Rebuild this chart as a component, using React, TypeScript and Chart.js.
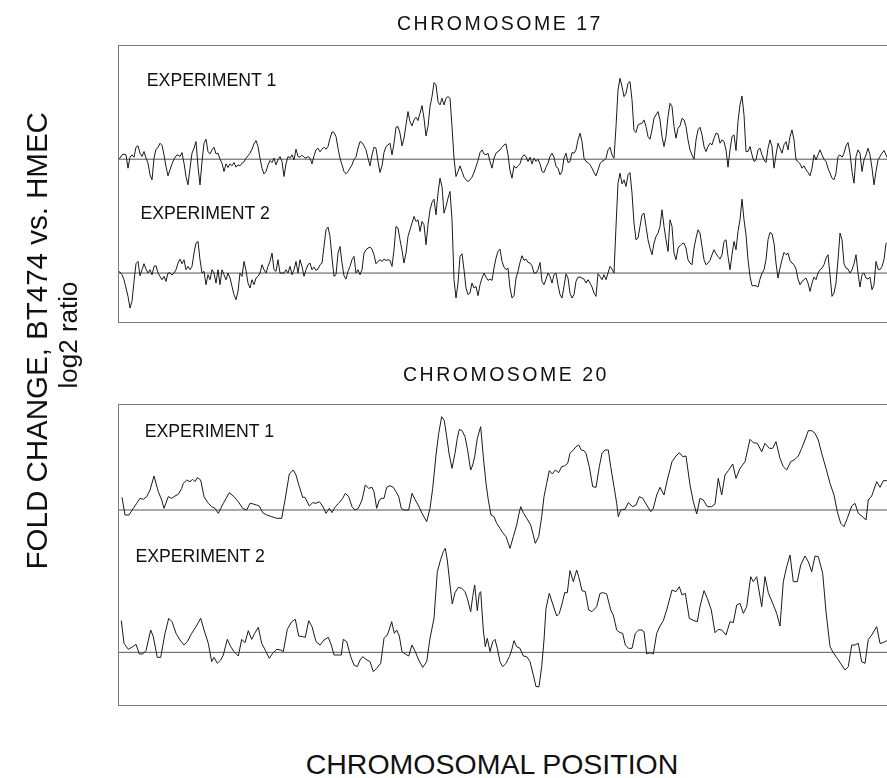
import React, { useEffect, useRef } from "react";
import { Chart, registerables } from "chart.js";

Chart.register(...registerables);

// ---------- text ----------
const panelTitles = ["CHROMOSOME 17", "CHROMOSOME 20"];
const expLabels = ["EXPERIMENT 1", "EXPERIMENT 2"];
const yTitle = "FOLD CHANGE, BT474 vs. HMEC";
const yUnit = "log2 ratio";
const xTitle = "CHROMOSOMAL POSITION";

// ---------- data (log2 ratio, probe order along the chromosome) ----------
// Chromosome 17: evenly spaced probes (index = position)
const chr17Exp1 = [
  0.03, 0.03, 0.13, 0.15, 0.13, -0.27, 0.06, 0.13, 0.06, 0.36,
  0.40, 0.18, 0.08, 0.23, 0.03, -0.12, -0.47, -0.62, 0.03, 0.30,
  0.35, 0.48, 0.42, 0.13, -0.22, -0.50, -0.32, -0.14, 0.00, 0.10,
  0.13, 0.08, 0.20, -0.12, -0.52, -0.77, -0.27, 0.18, 0.33, 0.53,
  -0.22, -0.77, -0.07, 0.48, 0.60, 0.23, 0.16, 0.28, 0.36, 0.16,
  0.18, 0.00, -0.12, -0.37, -0.14, -0.25, -0.14, -0.20, -0.10, -0.24,
  -0.17, -0.20, -0.12, -0.08, 0.03, 0.10, 0.18, 0.30, 0.46, 0.56,
  0.38, 0.03, -0.27, -0.44, -0.37, -0.17, -0.04, -0.10, 0.03, -0.17,
  -0.02, 0.08, -0.07, -0.52, -0.14, 0.08, 0.03, 0.13, -0.02, 0.30,
  0.08, 0.06, 0.12, 0.06, 0.03, 0.08, 0.03, -0.14, 0.10, 0.28,
  0.33, 0.22, 0.30, 0.36, 0.30, 0.38, 0.63, 0.82, 0.80, 0.68,
  0.33, 0.03, -0.17, -0.37, -0.44, -0.37, -0.27, -0.17, 0.00, 0.06,
  0.33, 0.53, 0.50, 0.40, 0.28, 0.03, -0.20, 0.13, 0.36, 0.33,
  -0.07, -0.40, -0.20, 0.20, 0.38, 0.43, 0.48, 0.13, 0.48, 0.96,
  0.98, 0.78, 0.40, 0.63, 1.03, 1.43, 1.13, 1.00, 1.18, 1.26,
  1.16, 1.38, 1.61, 1.23, 0.70, 0.98, 1.58, 1.88, 2.30, 2.23,
  1.73, 1.63, 1.83, 1.63, 1.83, 1.88, 1.83, 0.98, 0.03, -0.52,
  -0.37, -0.20, -0.37, -0.54, -0.62, -0.67, -0.62, -0.54, -0.40, -0.22,
  -0.04, 0.20, 0.28, 0.16, 0.13, 0.18, -0.07, -0.27, 0.03, 0.18,
  0.23, 0.28, 0.36, 0.43, 0.46, 0.13, -0.34, -0.57, -0.20, -0.27,
  -0.20, -0.14, 0.06, 0.13, 0.08, -0.07, 0.06, -0.14, 0.03, -0.07,
  0.00, -0.14, -0.37, -0.40, -0.24, -0.12, 0.08, 0.18, 0.06, -0.22,
  -0.27, -0.47, -0.37, 0.03, 0.18, -0.10, -0.07, 0.20, 0.18, 0.28,
  0.58, 0.78, 0.53, 0.03, -0.07, -0.10, -0.17, -0.27, -0.40, -0.50,
  -0.32, -0.14, -0.06, -0.04, 0.03, 0.28, 0.36, 0.13, 0.03, 0.98,
  2.08, 2.43, 2.18, 1.88, 1.98, 2.28, 2.33, 1.78, 0.86, 0.80,
  1.03, 1.06, 1.08, 1.18, 0.98, 0.68, 0.60, 0.88, 1.23, 1.33,
  1.43, 1.18, 0.68, 0.38, 0.68, 1.28, 1.68, 1.58, 0.98, 0.63,
  0.93, 1.00, 1.23, 1.18, 0.98, 0.58, 0.28, 0.13, 0.00, 0.58,
  0.88, 0.96, 0.73, 0.38, 0.23, 0.38, 0.48, 0.43, 0.63, 0.78,
  0.76, 0.48, 0.58, 0.53, 0.28, -0.24, 0.28, 0.68, 0.73, 0.26,
  1.13, 1.63, 1.90, 1.33, 0.23, 0.23, 0.38, 0.13, -0.07, -0.02,
  0.28, 0.33, 0.13, -0.02, -0.10, 0.33, 0.58, 0.38, -0.27, 0.13,
  0.48, 0.33, 0.18, 0.43, 0.53, 0.28, 0.68, 0.88, 0.58, -0.02,
  -0.07, -0.14, -0.27, -0.20, -0.32, -0.40, -0.50, -0.27, 0.13, -0.02,
  0.13, 0.28, 0.13, 0.00, -0.07, -0.27, -0.42, -0.57, -0.62, -0.42,
  0.08, 0.13, 0.06, 0.18, 0.40, 0.50, 0.18, -0.37, -0.72, 0.08,
  0.28, 0.18, -0.37, -0.02, 0.13, 0.33, 0.13, -0.27, -0.77, -0.37,
  -0.02, 0.08, 0.18, 0.26, 0.13, 0.00, -0.05, 0.05,
];

const chr17Exp2 = [
  0.05, 0.03, -0.05, -0.20, -0.45, -0.70, -1.05, -0.85, -0.25, 0.28,
  0.35, -0.08, 0.10, 0.28, 0.12, 0.00, 0.10, -0.05, 0.20, 0.22,
  0.00, -0.10, -0.20, -0.10, -0.25, 0.00, 0.00, -0.06, 0.00, 0.10,
  0.30, 0.42, 0.28, 0.40, 0.10, 0.20, 0.10, 0.20, 0.60, 0.90,
  0.95, 0.40, 0.00, 0.05, -0.35, -0.05, -0.20, 0.10, 0.00, -0.30,
  0.10, -0.35, 0.10, -0.05, -0.20, 0.00, -0.15, -0.40, -0.65, -0.80,
  -0.55, 0.00, -0.10, 0.35, 0.08, -0.30, -0.45, -0.20, -0.35, -0.15,
  -0.10, 0.00, 0.25, 0.10, 0.00, 0.20, 0.35, 0.60, 0.10, 0.05,
  0.40, 0.00, 0.00, 0.00, 0.10, 0.00, 0.20, -0.05, 0.10, 0.35,
  0.00, 0.40, 0.20, -0.10, 0.10, 0.25, 0.30, 0.10, 0.18, 0.08,
  0.12, 0.25, 0.30, 0.80, 1.30, 1.38, 1.10, 0.45, -0.10, -0.05,
  0.60, 0.80, 0.30, -0.08, -0.18, 0.05, 0.20, 0.40, 0.50, 0.00,
  0.10, -0.05, 0.10, 0.60, 0.70, 0.75, 0.78, 0.72, 0.55, 0.28,
  0.35, 0.40, 0.35, 0.42, 0.38, 0.40, 0.38, 0.20, 0.70, 1.40,
  1.35, 1.00, 0.68, 0.30, 0.60, 1.10, 1.30, 1.50, 1.70, 1.55,
  1.60, 1.25, 1.55, 1.45, 0.85, 1.45, 1.90, 2.12, 2.22, 1.75,
  2.40, 2.85, 2.60, 1.80, 2.00, 2.25, 2.45, 1.60, -0.20, -0.75,
  -0.30, 0.50, 0.58, 0.10, -0.45, -0.65, -0.60, -0.30, -0.45, -0.40,
  -0.68, -0.35, -0.15, 0.00, -0.12, -0.22, -0.18, -0.22, 0.15, 0.45,
  0.65, 0.72, 0.35, 0.18, 0.10, 0.15, -0.45, -0.75, -0.68, -0.15,
  0.05, 0.32, 0.52, 0.38, 0.42, 0.32, 0.30, 0.22, 0.00, 0.00,
  0.10, 0.32, -0.25, -0.35, -0.18, 0.00, -0.10, -0.30, -0.05, 0.00,
  -0.35, -0.65, -0.75, -0.40, -0.02, -0.15, -0.60, -0.75, -0.65, -0.25,
  -0.12, -0.12, -0.15, -0.18, -0.30, -0.20, -0.30, -0.42, -0.60, -0.70,
  -0.02, -0.10, -0.20, -0.05, -0.20, 0.00, 0.20, 0.12, 0.00, 1.40,
  2.70, 3.00, 2.68, 2.80, 2.60, 2.95, 3.02, 2.40, 1.50, 1.00,
  1.05, 1.40, 1.75, 1.80, 1.40, 1.00, 0.75, 0.55, 0.90, 1.10,
  1.20, 1.40, 1.90, 1.40, 1.00, 0.65, 1.60, 1.40, 0.60, 0.40,
  0.75, 0.82, 0.88, 0.90, 0.75, 0.40, 0.30, 0.25, 0.75, 1.05,
  1.30, 1.20, 0.80, 0.40, 0.25, 0.30, 0.38, 0.55, 0.70, 0.58,
  0.50, 0.42, 0.55, 0.95, 1.00, 0.50, 0.10, 0.55, 0.95, 0.70,
  1.25, 1.60, 2.22, 1.60, 1.15, 0.40, -0.10, -0.38, -0.38, -0.38,
  -0.42, -0.18, 0.00, 0.10, 0.40, 1.00, 1.22, 1.18, 0.90, 0.30,
  -0.15, 0.15, 0.40, 0.62, 0.55, 0.60, 0.38, 0.30, 0.25, 0.12,
  -0.18, -0.35, -0.25, -0.20, -0.15, -0.30, -0.55, -0.30, -0.12, -0.20,
  0.00, 0.10, 0.15, 0.25, 0.45, 0.55, -0.05, -0.70, -0.60, -0.30,
  0.40, 1.20, 1.00, 0.28, 0.15, 0.12, 0.00, 0.10, 0.28, 0.55,
  0.00, -0.42, -0.05, 0.00, -0.15, -0.18, -0.12, -0.50, -0.35, 0.35,
  0.12, 0.10, 0.20, 0.40, 0.88, 0.95, 0.80, 0.70,
];

// Chromosome 20: probe positions (arbitrary position units) and values
const chr20Exp1Pos = [
  4, 7, 11, 15.3, 18.7, 22, 25.3, 28.7, 32, 36,
  40.3, 43.7, 46, 50.3, 53.7, 57, 60.3, 63.7, 65.3, 68.7,
  72, 74.7, 77, 79.3, 82.7, 86, 90.3, 93.7, 97, 100.3,
  105.3, 111.3, 116, 120.3, 124.7, 128.7, 132, 135.3, 138.7, 141.3,
  144.7, 148.7, 153.7, 158.7, 163.7, 167, 171.3, 175.3, 178, 181.3,
  184.7, 187, 191.3, 194.7, 198, 201.3, 204.7, 208, 211.3, 214,
  217.3, 220.7, 224.7, 227.3, 230.7, 234, 237, 240.3, 244, 247.3,
  250.7, 254, 256, 258.7, 261.3, 264, 266, 268.7, 272, 275.3,
  278, 280.7, 283.3, 286.3, 290.7, 294, 297.3, 300.7, 304, 308.7,
  312, 314.7, 318, 320.7, 323.7, 326.3, 328.7, 331.3, 334, 337,
  339.3, 341.3, 344, 347, 349.3, 352.7, 354.7, 356.7, 359.3, 362.7,
  365.3, 368, 370.3, 373, 376, 378.7, 382, 384.7, 388, 392,
  395.3, 398.7, 400.7, 402.7, 405.3, 408.7, 412.7, 415.3, 417.3, 420.7,
  423.7, 426, 428.7, 431.3, 434.3, 437.3, 440.7, 443.7, 446.3, 449.7,
  452, 455.3, 458, 460.7, 463.3, 466, 468, 471.3, 474.7, 478,
  481.3, 484, 487, 490.3, 492.7, 496, 498.7, 500.3, 502.7, 504.7,
  507, 510.3, 514.7, 518, 521.3, 524.7, 528.7, 532.7, 535.3, 538.7,
  542, 546, 549.3, 554, 558, 561.3, 564.7, 568, 572, 575.3,
  578.7, 582, 585.3, 589.3, 593.7, 597, 600.3, 603.7, 607, 610.3,
  614.7, 618, 622, 627, 632, 635.3, 639.3, 643.7, 647, 651.3,
  654.7, 658, 662, 665.3, 668.7, 672.7, 677, 680.3, 683.7, 687,
  690.3, 693.7, 697, 700.3, 703.7, 708, 712, 716, 719.3, 722.7,
  726, 729.3, 733.7, 737, 740.3, 743.7, 748, 750.3, 753.7, 758.7,
  762, 765.3, 768.7, 772, 774,
];
const chr20Exp1 = [
  0.38, -0.15, -0.15, 0.05, 0.20, 0.35, 0.32, 0.40, 0.60, 1.02,
  0.55, 0.30, 0.05, 0.40, 0.35, 0.42, 0.47, 0.65, 0.80, 0.90,
  0.85, 0.92, 0.85, 0.97, 0.90, 0.40, 0.20, 0.10, 0.05, -0.10,
  0.20, 0.52, 0.40, 0.25, 0.05, 0.00, 0.20, 0.18, 0.15, 0.12,
  -0.08, -0.15, -0.20, -0.25, -0.25, 0.30, 1.08, 1.20, 1.05, 0.70,
  0.38, 0.38, 0.12, 0.22, 0.20, 0.25, 0.12, -0.10, 0.05, -0.08,
  0.10, 0.20, 0.35, 0.50, 0.40, 0.10, 0.00, 0.05, 0.30, 0.75,
  0.65, 0.68, 0.55, 0.05, 0.30, 0.35, 0.35, 0.68, 0.73, 0.68,
  0.55, 0.40, 0.05, 0.00, 0.00, 0.50, 0.30, 0.12, -0.10, -0.35,
  0.05, 0.65, 1.65, 2.30, 2.80, 2.68, 2.20, 1.65, 1.25, 1.70,
  2.15, 2.42, 2.38, 2.20, 1.85, 1.20, 1.35, 1.60, 2.15, 2.50,
  1.60, 0.80, 0.30, -0.15, -0.20, -0.40, -0.55, -0.68, -0.80, -1.15,
  -0.80, -0.45, -0.15, 0.10, -0.08, -0.25, -0.45, -0.75, -1.00, -0.80,
  -0.20, 0.40, 0.80, 1.18, 1.08, 1.20, 1.12, 1.30, 1.32, 1.40,
  1.70, 1.80, 1.90, 1.95, 1.80, 1.78, 1.70, 1.30, 0.70, 0.68,
  1.30, 1.70, 1.80, 1.80, 1.30, 0.70, 0.20, -0.20, 0.00, 0.02,
  0.02, 0.22, 0.10, 0.15, 0.40, 0.35, 0.15, -0.05, 0.05, 0.45,
  0.68, 0.45, 0.90, 1.45, 1.62, 1.72, 1.60, 1.62, 0.75, 0.25,
  -0.12, 0.35, 0.30, 0.10, 0.10, 0.18, 0.95, 0.45, 1.05, 1.18,
  1.38, 0.95, 1.25, 1.45, 2.12, 2.02, 2.00, 1.75, 2.00, 1.85,
  1.85, 2.05, 1.55, 1.30, 1.20, 1.45, 1.52, 1.62, 1.85, 2.10,
  2.38, 2.38, 2.30, 2.10, 1.70, 1.25, 0.80, 0.45, -0.05, -0.40,
  -0.50, -0.25, 0.12, 0.20, -0.10, -0.18, -0.30, 0.30, 0.42, 0.85,
  0.68, 0.88, 0.88, 0.85, 0.90,
];

const chr20Exp2Pos = [
  3.3, 6, 10.3, 14.7, 18, 21.3, 24.7, 28, 32.7, 35.3,
  39.3, 42.7, 47, 50.7, 54, 58, 62, 66, 69.3, 73.7,
  78, 82.7, 86, 90.3, 93.7, 96, 99.3, 102.7, 105.3, 109.3,
  112.7, 116, 120.3, 123.7, 127, 130.3, 133.7, 136.7, 140.3, 143.7,
  148, 151.3, 154.7, 158.7, 162.7, 165.3, 169.3, 173.7, 177.3, 180.7,
  184.7, 187.3, 190.7, 194, 198, 202, 206, 210.3, 213.3, 216,
  220.3, 223.3, 225.3, 228.7, 232.7, 236, 239.3, 242, 244.7, 248,
  252, 255.3, 258.7, 262.7, 264.7, 266, 269.3, 271.3, 273.7, 276.3,
  278.7, 281.3, 284, 287.3, 290.7, 294, 297.3, 300.7, 304.7, 308.7,
  312, 316, 319.3, 322.7, 325.3, 327.3, 329.3, 332, 334.3, 337,
  340.3, 343.7, 347, 349.3, 352.7, 354.7, 356.7, 359.3, 361.3, 362.7,
  365.3, 367.3, 369.3, 372, 374.7, 377, 379.3, 382, 384.7, 388,
  391.3, 393.7, 396, 398.7, 402, 405.3, 408.7, 412, 415.3, 418,
  421, 423.7, 426, 428, 431.3, 434.7, 438.7, 441.3, 444, 446.7,
  449.3, 452, 455.3, 458.7, 460.7, 464, 467.3, 470.7, 474, 478.7,
  482, 485.3, 488.7, 492.7, 495.3, 498.7, 502, 504.7, 507.3, 510.7,
  514, 517.3, 520.7, 524, 526, 528.7, 532, 535.3, 538.7, 542,
  545.3, 548.7, 554, 558, 561.3, 564, 567.3, 571.3, 576, 579.3,
  582, 586, 589.3, 593.3, 597, 600.3, 603.7, 608, 612, 615.3,
  618.7, 622, 625.3, 628.7, 632.7, 635.3, 638.7, 643.7, 647, 650.3,
  654.7, 658.7, 662, 665.3, 668.7, 672, 675.3, 679.3, 682.7, 687,
  690.3, 693.7, 697, 700.3, 704.7, 708, 712, 715.3, 719.3, 723.7,
  727, 730.3, 733.7, 737, 740.3, 743.7, 747, 750.3, 753.7, 758.7,
  762, 765.3, 768.7, 772, 774,
];
const chr20Exp2 = [
  0.95, 0.27, 0.09, 0.17, 0.24, -0.05, -0.05, 0.05, 0.67, 0.47,
  -0.15, -0.15, 0.57, 1.02, 0.92, 0.57, 0.37, 0.22, 0.32, 0.57,
  0.77, 1.02, 0.67, 0.27, -0.28, -0.15, -0.33, -0.23, -0.08, 0.39,
  0.17, 0.02, -0.11, 0.39, 0.29, 0.65, 0.39, 0.57, 0.75, 0.27,
  0.02, -0.18, -0.03, 0.09, 0.07, 0.02, 0.69, 0.92, 0.99, 0.49,
  0.47, 0.45, 0.95, 0.77, 0.32, 0.22, 0.37, 0.45, 0.22, -0.08,
  -0.08, -0.08, 0.39, 0.32, -0.13, -0.38, -0.43, -0.23, -0.13, -0.21,
  -0.28, -0.58, -0.48, -0.33, 0.12, 0.42, 0.52, 0.69, 0.92, 0.57,
  0.67, 0.49, 0.02, -0.05, -0.11, 0.22, 0.02, -0.23, -0.45, -0.28,
  0.42, 1.02, 2.42, 2.79, 3.02, 3.12, 2.77, 2.02, 1.45, 1.79,
  1.95, 1.92, 1.82, 1.62, 1.22, 1.67, 2.02, 1.25, 1.77, 1.82,
  0.67, 0.17, 0.42, 0.02, 0.32, 0.39, 0.12, -0.28, -0.43, -0.33,
  -0.13, 0.07, 0.35, 0.17, 0.12, -0.11, -0.13, -0.28, -0.68, -1.03,
  -1.03, -0.43, 0.37, 1.32, 1.77, 1.45, 1.09, 1.17, 1.45, 1.79,
  1.79, 2.45, 2.12, 2.47, 2.27, 1.85, 1.82, 1.27, 1.22, 1.37,
  1.77, 1.79, 1.75, 1.27, 1.12, 0.67, 0.59, 0.57, 0.22, 0.12,
  0.12, 0.57, 0.67, 0.67, 0.62, -0.05, -0.01, -0.05, 0.57, 0.79,
  0.95, 1.27, 1.87, 1.82, 1.97, 1.72, 1.77, 1.02, 0.95, 0.92,
  1.37, 1.85, 1.62, 1.27, 0.59, 0.69, 0.67, 0.52, 0.92, 0.89,
  1.42, 1.47, 1.17, 1.37, 2.27, 2.12, 2.27, 1.37, 2.27, 1.79,
  1.47, 1.17, 0.79, 2.12, 2.57, 2.92, 2.12, 2.12, 2.62, 2.89,
  2.72, 2.42, 2.89, 2.87, 2.37, 1.22, 0.17, -0.01, -0.18, -0.38,
  -0.53, -0.43, 0.22, 0.22, 0.27, -0.28, -0.33, 0.39, 0.52, 0.77,
  0.27, 0.29, 0.35, 0.40, 0.45,
];

// vertical stacking: experiment 1 drawn above experiment 2, in log2 units
const chr17Offset = 3.42;
const chr20Offset = 4.27;
const chr17YRange = [-1.5, 6.85];
const chr20YRange = [-1.61, 7.45];
const chr17XMax = 387;
const chr20XMax = 774;

// ---------- chart helpers ----------
const boxPlugin = {
  id: "panelBox",
  afterDraw(chart: any) {
    const { ctx, chartArea } = chart;
    const { left, top, right, bottom } = chartArea;
    ctx.save();
    ctx.strokeStyle = "#7a7a7a";
    ctx.lineWidth = 1;
    ctx.strokeRect(left + 0.5, top + 0.5, right - left - 1, bottom - top - 1);
    ctx.restore();
  },
};

function makeConfig(
  e1: { x: number; y: number }[],
  e2: { x: number; y: number }[],
  offset: number,
  yRange: number[],
  xMax: number,
  padding: { left: number; top: number; right: number; bottom: number }
): any {
  const traceStyle = {
    borderColor: "#1a1a1a",
    borderWidth: 1,
    pointRadius: 0,
    tension: 0,
    fill: false,
  };
  const baseStyle = {
    borderColor: "#555555",
    borderWidth: 1,
    pointRadius: 0,
    tension: 0,
    fill: false,
  };
  return {
    type: "line",
    data: {
      datasets: [
        { label: expLabels[0], data: e1, ...traceStyle },
        { label: expLabels[1], data: e2, ...traceStyle },
        {
          label: "baseline 1",
          data: [
            { x: 0, y: offset },
            { x: xMax, y: offset },
          ],
          ...baseStyle,
        },
        {
          label: "baseline 2",
          data: [
            { x: 0, y: 0 },
            { x: xMax, y: 0 },
          ],
          ...baseStyle,
        },
      ],
    },
    options: {
      responsive: false,
      animation: false,
      events: [],
      layout: { padding },
      plugins: {
        legend: { display: false },
        tooltip: { enabled: false },
        title: { display: false },
      },
      scales: {
        x: { type: "linear", min: 0, max: xMax, display: false },
        y: { type: "linear", min: yRange[0], max: yRange[1], display: false },
      },
    },
    plugins: [boxPlugin],
  };
}

const FONT = '"Liberation Sans", Arial, Helvetica, sans-serif';

export default function App() {
  const ref17 = useRef<HTMLCanvasElement>(null);
  const ref20 = useRef<HTMLCanvasElement>(null);

  useEffect(() => {
    const e17a = chr17Exp1.map((v, i) => ({ x: i, y: v + chr17Offset }));
    const e17b = chr17Exp2.map((v, i) => ({ x: i, y: v }));
    const e20a = chr20Exp1.map((v, i) => ({ x: chr20Exp1Pos[i], y: v + chr20Offset }));
    const e20b = chr20Exp2.map((v, i) => ({ x: chr20Exp2Pos[i], y: v }));

    const c1 = new Chart(
      ref17.current as HTMLCanvasElement,
      makeConfig(e17a, e17b, chr17Offset, chr17YRange, chr17XMax, {
        left: 118,
        top: 45,
        right: 8,
        bottom: 17,
      })
    );
    const c2 = new Chart(
      ref20.current as HTMLCanvasElement,
      makeConfig(e20a, e20b, chr20Offset, chr20YRange, chr20XMax, {
        left: 118,
        top: 44,
        right: 8,
        bottom: 14,
      })
    );
    return () => {
      c1.destroy();
      c2.destroy();
    };
  }, []);

  const abs: React.CSSProperties = {
    position: "absolute",
    whiteSpace: "nowrap",
    fontFamily: FONT,
    color: "#111",
  };
  const title = (text: string, left: number, top: number) => (
    <div
      style={{
        ...abs,
        left,
        top,
        fontSize: 19.5,
        lineHeight: "19.5px",
        letterSpacing: "2.5px",
      }}
    >
      {text}
    </div>
  );
  const exp = (text: string, left: number, top: number) => (
    <div style={{ ...abs, left, top, fontSize: 17.7, lineHeight: "17.7px" }}>{text}</div>
  );

  return (
    <div
      style={{
        position: "absolute",
        left: 0,
        top: 0,
        width: 887,
        height: 778,
        overflow: "hidden",
        background: "#ffffff",
      }}
    >
      <canvas
        ref={ref17}
        width={900}
        height={340}
        style={{ position: "absolute", left: 0, top: 0, width: 900, height: 340 }}
      />
      <canvas
        ref={ref20}
        width={900}
        height={360}
        style={{ position: "absolute", left: 0, top: 360, width: 900, height: 360 }}
      />

      {title(panelTitles[0], 397, 13.5)}
      {title(panelTitles[1], 403, 364.5)}

      {exp(expLabels[0], 146.8, 71.7)}
      {exp(expLabels[1], 140.4, 205)}
      {exp(expLabels[0], 144.7, 423.3)}
      {exp(expLabels[1], 135.4, 548.3)}

      <div
        style={{
          ...abs,
          left: 36.8 - 300,
          top: 341 - 14.75,
          width: 600,
          height: 29.5,
          fontSize: 29.5,
          lineHeight: "29.5px",
          textAlign: "center",
          transform: "rotate(-90deg)",
        }}
      >
        {yTitle}
      </div>
      <div
        style={{
          ...abs,
          left: 67.7 - 300,
          top: 335 - 13,
          width: 600,
          height: 26,
          fontSize: 26,
          lineHeight: "26px",
          textAlign: "center",
          transform: "rotate(-90deg)",
        }}
      >
        {yUnit}
      </div>
      <div
        style={{
          ...abs,
          left: 492 - 300,
          top: 750.3,
          width: 600,
          fontSize: 28.5,
          lineHeight: "28.5px",
          textAlign: "center",
        }}
      >
        {xTitle}
      </div>
    </div>
  );
}
